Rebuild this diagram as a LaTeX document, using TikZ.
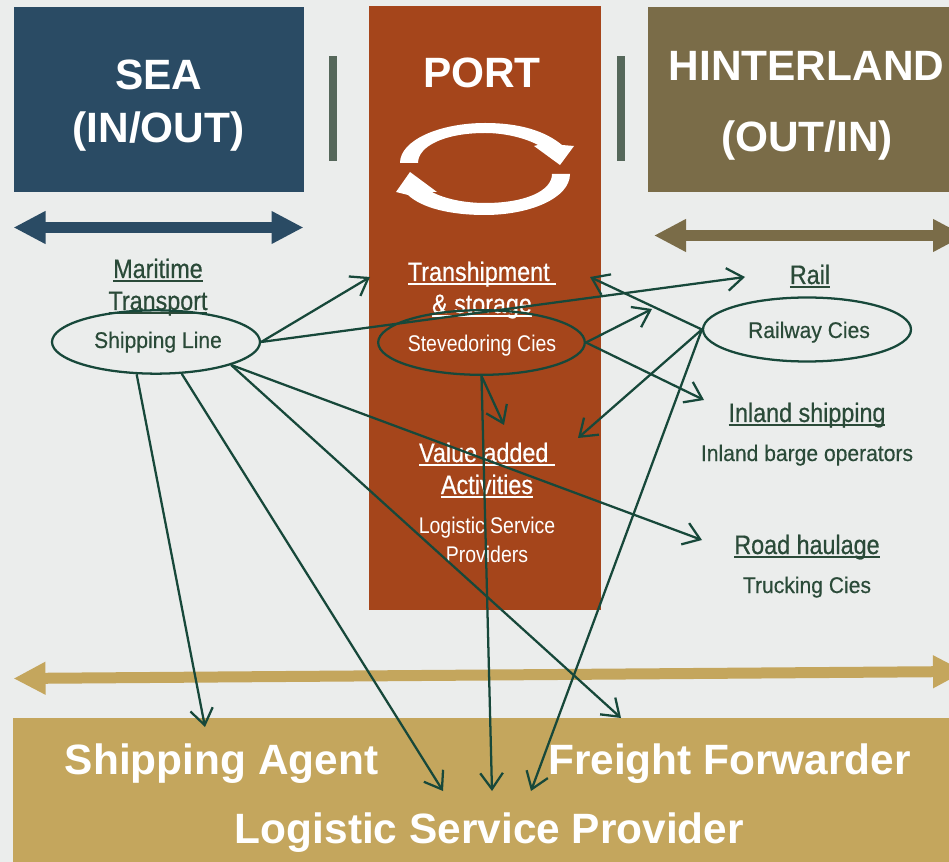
\documentclass[tikz,border=0pt]{standalone}
\usepackage{fontspec}
\usetikzlibrary{arrows.meta,shapes.geometric}
\setmainfont{Liberation Sans}
\newfontfamily\headf[FakeStretch=0.875,FakeBold=0.6]{Liberation Sans}
\newfontfamily\subf[FakeStretch=0.93,FakeBold=0.4]{Liberation Sans}
\newfontfamily\subwf[FakeStretch=0.86]{Liberation Sans}
\newcommand\ulbl[1]{\setbox0\hbox{#1}\rlap{\rule[-2.9pt]{\wd0}{1.4pt}}\box0}
\definecolor{bgc}{HTML}{EBEDEC}
\definecolor{seac}{HTML}{2A4B64}
\definecolor{portc}{HTML}{A5451B}
\definecolor{hintc}{HTML}{7A6C48}
\definecolor{goldc}{HTML}{C4A65D}
\definecolor{barc}{HTML}{55675A}
\definecolor{linec}{HTML}{17483A}
\definecolor{textc}{HTML}{2A4A38}
\tikzset{
  title/.style={anchor=base,inner sep=0pt,text=white,font=\bfseries\fontsize{31.8}{34}\selectfont},
  head/.style={anchor=base,inner sep=0pt,text=textc,font=\headf\fontsize{20}{22}\selectfont},
  sub/.style={anchor=base,inner sep=0pt,text=textc,font=\subf\fontsize{17}{19}\selectfont},
  subw/.style={anchor=base,inner sep=0pt,text=white,font=\subwf\fontsize{17}{19}\selectfont},
  whitetext/.style={text=white},
  actor/.style={draw=linec,line width=1.7pt,shape=ellipse,inner sep=0pt,fill=none},
  link/.style={draw=linec,line width=1.7pt,-{Straight Barb[length=12pt,width=17pt,line width=1.7pt]}},
  band/.style={line width=8.25pt,{Triangle[length=24pt,width=23pt]}-{Triangle[length=24pt,width=23pt]}},
}
\begin{document}
\begin{tikzpicture}[x=0.75pt,y=-0.75pt]
\useasboundingbox (0,0) rectangle (949,862);
\fill[bgc] (0,0) rectangle (949,862);
% panels
\fill[seac] (14,7) rectangle (304,192);
\fill[portc] (369,6) rectangle (601,610);
\fill[hintc] (648,7) rectangle (949,192);
\fill[goldc] (13,718) rectangle (949,862);
\fill[barc] (329,56) rectangle (337,161);
\fill[barc] (617,56) rectangle (625,161);
% wide arrows
\draw[band,seac] (13.5,227.5) -- (303.5,227.5);
\draw[band,hintc] (654,235.5) -- (965,235.5);
\draw[band,goldc] (13.5,678.5) -- (965,671.5);
% circular arrows
\fill[white] (400,163) .. controls (400,140) and (440,123) .. (485,123)
  .. controls (520,123) and (545,131) .. (562,145) -- (574,146) -- (560,165) -- (534,146) -- (538,145)
  .. controls (525,138) and (505,133) .. (485,133)
  .. controls (445,133) and (418,146) .. (418,163) -- cycle;
\fill[white] (570,174) .. controls (570,198) and (530,215) .. (485,215)
  .. controls (450,215) and (422,208) .. (408,195) -- (396,192) -- (410,172) -- (437,192) -- (432,192)
  .. controls (445,199) and (465,203) .. (485,203)
  .. controls (525,203) and (552,191) .. (552,174) -- cycle;
% titles
\node[title] (tsea) at (159,90) {SEA};
\node[title] (tinout) at (158.5,142.5) {(IN/OUT)};
\node[title] (tport) at (482,88) {PORT};
\node[title] (thint) at (806.5,81) {HINTERLAND};
\node[title] (toutin) at (807,151.5) {(OUT/IN)};
\node[title] (tagent) at (221.5,774) {Shipping Agent};
\node[title] (tfreight) at (729.5,774) {Freight Forwarder};
\node[title] (tlsp) at (489.5,843) {Logistic Service Provider};
% labels
\node[head] (lmar) at (158,278) {\ulbl{Maritime}};
\node[head] (ltrans) at (158,310) {\ulbl{Transport}};
\node[head,whitetext] (lship) at (482,281) {\ulbl{Transhipment\ }};
\node[head,whitetext] (lstor) at (482,313) {\ulbl{\& storage}};
\node[head,whitetext] (lval) at (487,462) {\ulbl{Value added\ }};
\node[head,whitetext] (lact) at (487,494) {\ulbl{Activities}};
\node[subw] (llog) at (487,533) {Logistic Service};
\node[subw] (lprov) at (487,562) {Providers};
\node[head] (lrail) at (810,284) {\ulbl{Rail}};
\node[head] (linl) at (807,422) {\ulbl{Inland shipping}};
\node[sub] (lbarge) at (807,461) {Inland barge operators};
\node[head] (lroad) at (807,554) {\ulbl{Road haulage}};
\node[sub] (ltruck) at (807,593) {Trucking Cies};
\node[sub] (tshipline) at (158,348) {Shipping Line};
\node[subw] (tsteve) at (482,352) {Stevedoring Cies};
\node[sub] (trailw) at (809,338) {Railway Cies};
% actors
\node[actor,minimum width=156pt,minimum height=47.5pt] (shipline) at (156,342) {};
\node[actor,minimum width=155pt,minimum height=48.5pt] (steve) at (481.5,342.5) {};
\node[actor,minimum width=156pt,minimum height=48pt] (railw) at (807,329.5) {};
% free ends
\coordinate (eport) at (370,277);
\coordinate (erail) at (745,277);
\coordinate (eagent) at (205,727);
\coordinate (elsp1) at (443,791);
\coordinate (eff) at (621,718);
\coordinate (eroad) at (702,540);
\coordinate (etrans) at (652,309);
\coordinate (einl) at (704,400);
\coordinate (eval) at (504,425);
\coordinate (elsp2) at (492,791);
\coordinate (etrans2) at (590,277);
\coordinate (eval2) at (578,438);
\coordinate (elsp3) at (531,791);
% connectors
\draw[link] (shipline.east) -- (eport);
\draw[link] (shipline.east) -- (erail);
\draw[link] (shipline.239) -- (eagent);
\draw[link] (shipline.309) -- (elsp1);
\draw[link] (shipline.343) -- (eff);
\draw[link] (shipline.343) -- (eroad);
\draw[link] (steve.east) -- (etrans);
\draw[link] (steve.east) -- (einl);
\draw[link] (steve.south) -- (eval);
\draw[link] (steve.south) -- (elsp2);
\draw[link] (railw.west) -- (etrans2);
\draw[link] (railw.west) -- (eval2);
\draw[link] (railw.west) -- (elsp3);
\end{tikzpicture}
\end{document}
